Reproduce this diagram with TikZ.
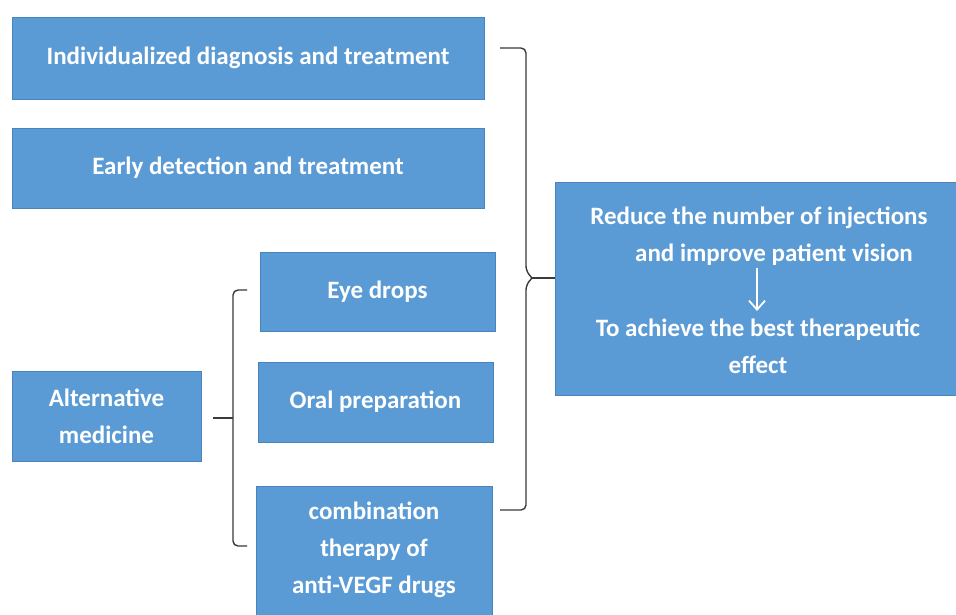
\documentclass[tikz,border=0pt]{standalone}
\usepackage{fontspec}
\setmainfont{Carlito}
\usepackage{xcolor}
\usetikzlibrary{arrows.meta,positioning,calc}
\definecolor{tpFill}{HTML}{5B9BD5}
\definecolor{tpEdge}{HTML}{4A84BD}
\definecolor{tpInk}{HTML}{3A3A3A}
\tikzset{
  tbox/.style={rectangle,draw=tpEdge,line width=0.8pt,fill=tpFill,
    align=center,font=\fontsize{25}{37}\selectfont\bfseries,text=white,
    inner sep=0pt},
  ttxt/.style={font=\fontsize{25}{37}\selectfont\bfseries,text=white,
    align=center,inner sep=0pt},
  brace/.style={draw=tpInk,line width=1.4pt,rounded corners=5pt},
  warr/.style={->,>={Straight Barb[length=9pt,width=16pt]},line width=1.8pt,white},
}
\begin{document}
\begin{tikzpicture}[x=1pt,y=-1pt]
  \useasboundingbox (0,0) rectangle (956,614);
  \fill[white] (0,0) rectangle (956,614);
  \clip (0,0) rectangle (956,614);

  % left column
  \node[tbox,minimum width=472pt,minimum height=82pt] (indiv) at (248,58)
    {Individualized diagnosis and treatment};
  \node[tbox,minimum width=472pt,minimum height=80pt] (early) at (248,168)
    {Early detection and treatment};
  \node[tbox,minimum width=189pt,minimum height=90pt] (alt) at (106.5,416)
    {Alternative\\medicine};

  % middle column
  \node[tbox,minimum width=235pt,minimum height=79pt] (drops) at (377.5,291.5)
    {Eye drops};
  \node[tbox,minimum width=235pt,minimum height=80pt] (oral) at (375.5,402)
    {Oral preparation};
  \node[tbox,minimum width=236pt,minimum height=134pt] (combo) at (374,553) {};
  \node[ttxt,anchor=north] (combotxt) at (374,502)
    {combination\\therapy of\\anti-VEGF drugs};

  % goal
  \node[tbox,minimum width=401pt,minimum height=213pt] (goal) at (755.5,288.5) {};
  \node[ttxt] (goaltop) at (759,236) {Reduce the number of injections\\
    \hspace{1.2em}and improve patient vision};
  \node[ttxt] (goalbot) at (758,346) {To achieve the best therapeutic\\effect};
  \coordinate (ga) at (757,268);
  \coordinate (gb) at (757,311);
  \draw[warr] (ga) -- (gb);

  % small brace
  \coordinate (stip) at (213,418);
  \draw[brace] (247,290) -- (233,290) -- (233,546) -- (247,546);
  \draw[draw=tpInk,line width=1.4pt] (stip) -- (233,418);

  % big brace
  \coordinate (btip) at (532,278);
  \draw[brace] (500,48) -- (526,48) -- (526,271) -- (btip);
  \draw[brace] (btip) -- (526,285) -- (526,510) -- (500,510);
  \draw[draw=tpInk,line width=1.6pt] (btip) -- (goal.west |- btip);
\end{tikzpicture}
\end{document}
